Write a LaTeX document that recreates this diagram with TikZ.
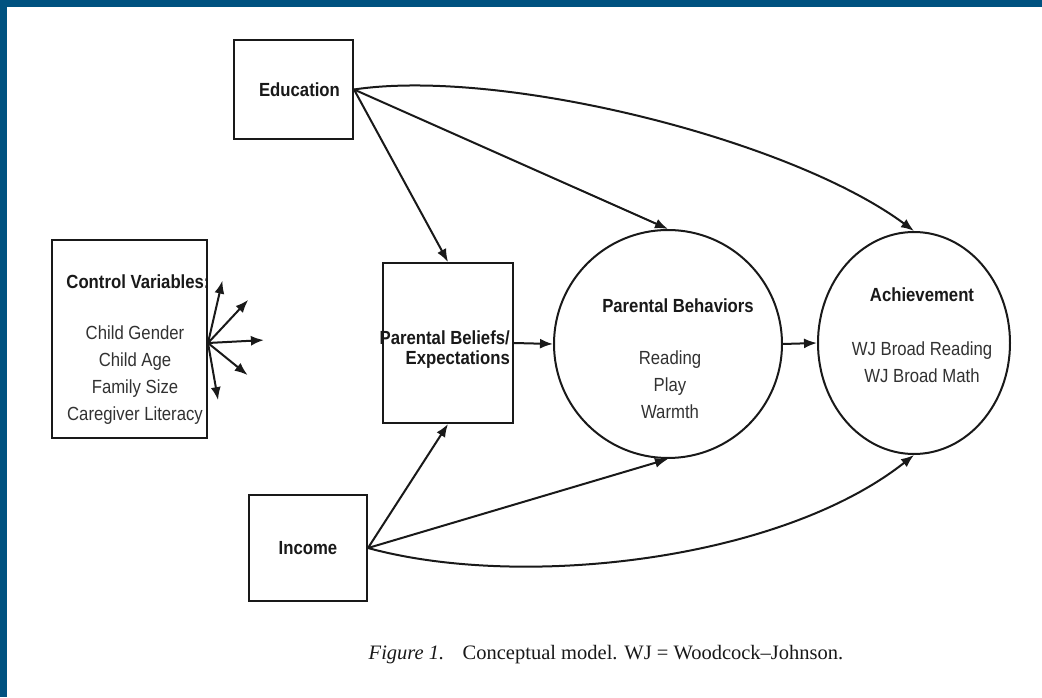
\documentclass[tikz,border=0pt]{standalone}
\usepackage{fontspec}
\setmainfont{Liberation Serif}
\setsansfont{Liberation Sans}[FakeStretch=0.88]
\usepackage{tikz}
\usetikzlibrary{arrows.meta, calc, positioning, shapes.geometric}
\usepackage{xcolor}
\definecolor{FrameBlue}{RGB}{0, 82, 128}
\definecolor{InkBlack}{RGB}{25, 25, 25}
\definecolor{InkGray}{RGB}{50, 50, 50}
\tikzset{%
  var_box/.style={%
    rectangle,%
    draw=InkBlack,%
    line width=2pt,%
    inner sep=0pt,%
  },
  construct/.style={%
    ellipse,%
    draw=InkBlack,%
    line width=2pt,%
    inner sep=0pt,%
  },
  head_text/.style={%
    font={\sffamily\bfseries\fontsize{19}{20}\selectfont},%
    text=InkBlack,%
    align=center,%
  },
  item_text/.style={%
    font={\sffamily\fontsize{19}{27}\selectfont},%
    text=InkGray,%
    align=center,%
  },
  caption_text/.style={%
    font={\rmfamily\fontsize{20.5}{24}\selectfont},%
    text=InkBlack,%
  },
  smooth_path/.style={%
    color=InkBlack,%
    line join=round,%
    line width=2pt,%
  },
  arrow/.style={-{Latex[length=13pt, width=10pt]}},
}
\begin{document}
\begin{tikzpicture}[x=1pt, y=1pt]
    \useasboundingbox (0,0) rectangle (1042,697);
    \fill [FrameBlue] (0,0) rectangle (1042,697);
    \fill [white] (7,0) rectangle (1042,690);

    \node [var_box, head_text, minimum width=119, minimum height=99]
      (Education) at (293.5,607.5) {\hspace{12pt}Education};
    \node [var_box, head_text, minimum width=118, minimum height=106]
      (Income) at (308,149) {Income};
    \node [var_box, minimum width=130, minimum height=160]
      (Beliefs) at (448,354) {};
    \node [var_box, minimum width=155, minimum height=198]
      (Controls) at (129.5,358) {};
    \node [construct, minimum width=228, minimum height=228]
      (Behaviors) at (668,353) {};
    \node [construct, minimum width=192, minimum height=222]
      (Achievement) at (914,354) {};

    % texts inside the boxes and circles
    \node [head_text, align=right, anchor=east, inner sep=0pt]
      (Beliefs_text) at (510,347) {Parental Beliefs/\\Expectations};
    \node [head_text] (Controls_head) at (138,415) {Control Variables:};
    \node [item_text, below = 30 of Controls_head, xshift=-3]
      (Controls_items) {Child Gender\\Child Age\\Family Size\\Caregiver Literacy};
    \node [head_text] (Behaviors_head) at (678,391) {Parental Behaviors};
    \node [item_text] (Behaviors_items) at (670,312) {Reading\\Play\\Warmth};
    \node [head_text] (Achievement_head) at (922,402) {Achievement};
    \node [item_text] (Achievement_items) at (922,335)
      {WJ Broad Reading\\WJ Broad Math};

    \node [caption_text] (Caption) at (606,42)
      {\textit{Figure 1.}\hspace{0.9em}Conceptual model. WJ = Woodcock--Johnson.};

    % fan of control arrows
    \foreach \ang/\len [count=\k] in {77/64, 47/59, 3/56, -39/51, -80/58} {
      \coordinate (ctrl_tip\k) at ($(Controls.east)+(0,-4)+(\ang:\len)$);
      \draw [arrow, smooth_path]
        ($(Controls.east)+(0,-4)$) -- (ctrl_tip\k);
    }

    \draw [arrow, smooth_path]
      (Education.east)
      --
      (Beliefs.north);
    \draw [arrow, smooth_path]
      (Education.east)
      --
      (Behaviors.north);
    \draw [arrow, smooth_path]
      (Education.east)
      .. controls +(147,22) and +(-124,92) ..
      (Achievement.north);
    \draw [arrow, smooth_path]
      (Income.east)
      --
      (Beliefs.south);
    \draw [arrow, smooth_path]
      (Income.east)
      --
      (Behaviors.south);
    \draw [arrow, smooth_path]
      (Income.east)
      .. controls +(153,-42) and +(-134,-106) ..
      (Achievement.south);
    \draw [arrow, smooth_path]
      (Beliefs.east)
      --
      (Behaviors.west);
    \draw [arrow, smooth_path]
      (Behaviors.east)
      --
      (Achievement.west);
  \end{tikzpicture}
\end{document}
